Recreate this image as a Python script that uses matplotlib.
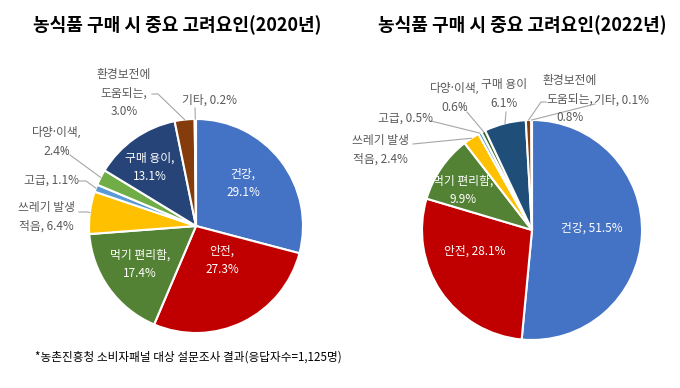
import matplotlib
matplotlib.use('Agg')
import matplotlib.pyplot as plt
import numpy as np

plt.rcParams['font.family'] = ['Noto Sans CJK KR', 'DejaVu Sans']

W, H = 680, 388

# 데이터
labels = ['건강', '안전', '먹기 편리함', '쓰레기 발생 적음', '고급', '다양·이색', '구매 용이', '환경보전에 도움되는', '기타']
vals_2020 = [29.1, 27.3, 17.4, 6.4, 1.1, 2.4, 13.1, 3.0, 0.2]
vals_2022 = [51.5, 28.1, 9.9, 2.4, 0.5, 0.6, 6.1, 0.8, 0.1]

colors_2020 = ['#4472C4', '#C00000', '#548235', '#FFC000', '#5B9BD5', '#70AD47', '#264478', '#843C0C', '#A5A5A5']
colors_2022 = ['#4472C4', '#C00000', '#548235', '#FFC000', '#5B9BD5', '#3F6B2A', '#1F4E79', '#843C0C', '#A5A5A5']

fig = plt.figure(figsize=(W / 100, H / 100), dpi=100)
ax = fig.add_axes([0, 0, 1, 1])


def Y(y):
    # 픽셀 좌표(위->아래)를 축 좌표로
    return H - y


def draw_pie(vals, colors, cx, cy, r):
    wedges, _ = ax.pie(vals, colors=colors, startangle=90, counterclock=False,
                       center=(cx, Y(cy)), radius=r,
                       wedgeprops=dict(edgecolor='white', linewidth=1.5))
    return wedges


def inside(txt, x, y):
    ax.text(x, Y(y), txt, color='white', fontsize=8.5, ha='center', va='center',
            linespacing=1.55)


def outside(w, txt, x, y, start, elbow=None):
    # 가운뎃점이 좁게 나오도록 라틴 글꼴 먼저
    fam = ['Noto Sans', 'Noto Sans CJK KR'] if '·' in txt else None
    ax.text(x, Y(y), txt, color='#595959', fontsize=8.5, ha='center', va='center',
            linespacing=1.55, family=fam)
    mid = np.deg2rad((w.theta1 + w.theta2) / 2)
    ex = w.center[0] + w.r * np.cos(mid)
    ey = w.center[1] + w.r * np.sin(mid)
    xs = [start[0]]
    ys = [Y(start[1])]
    if elbow:
        xs.append(elbow[0])
        ys.append(Y(elbow[1]))
    xs.append(ex)
    ys.append(ey)
    ax.plot(xs, ys, color='#A6A6A6', lw=0.8)


# 2020
w1 = draw_pie(vals_2020, colors_2020, 196, 226, 107)
inside('건강,\n29.1%', 243, 183)
inside('안전,\n27.3%', 222, 260)
inside('먹기 편리함,\n17.4%', 140, 264)
inside('구매 용이,\n13.1%', 150, 167)
outside(w1[3], '쓰레기 발생\n적음, 6.4%', 46, 217, (79, 212), (88, 212))
outside(w1[4], '고급, 1.1%', 51, 180, (79, 181), (86, 181))
outside(w1[5], '다양·이색,\n2.4%', 57, 142, (70, 155))
outside(w1[7], '환경보전에\n도움되는,\n3.0%', 124, 93, (152, 94), (158, 94))
outside(w1[8], '기타, 0.2%', 210, 100, (195, 108))

# 2022
w2 = draw_pie(vals_2022, colors_2022, 532, 230, 110)
inside('건강, 51.5%', 592, 228)
inside('안전, 28.1%', 475, 251)
inside('먹기 편리함,\n9.9%', 463, 190)
outside(w2[3], '쓰레기 발생\n적음, 2.4%', 380, 150, (413, 144))
outside(w2[4], '고급, 0.5%', 405, 118, (431, 121))
outside(w2[5], '다양·이색,\n0.6%', 455, 98, (467, 112))
outside(w2[6], '구매 용이\n6.1%', 504, 94, (506, 112))
outside(w2[7], '환경보전에\n도움되는,\n0.8%', 570, 99, (546, 102), (541, 102))
outside(w2[8], '기타, 0.1%', 621, 100, (595, 104))

# 제목, 주석
ax.text(177, Y(25), '농식품 구매 시 중요 고려요인(2020년)', fontsize=13, fontweight='bold',
        ha='center', va='center', color='black')
ax.text(522, Y(25), '농식품 구매 시 중요 고려요인(2022년)', fontsize=13, fontweight='bold',
        ha='center', va='center', color='black')
ax.text(35, Y(357), '*농촌진흥청 소비자패널 대상 설문조사 결과(응답자수=1,125명)', fontsize=8.4,
        ha='left', va='center', color='black')

ax.set_xlim(0, W)
ax.set_ylim(0, H)
ax.set_aspect('equal')
ax.axis('off')

fig.savefig('out.png', dpi=100)
